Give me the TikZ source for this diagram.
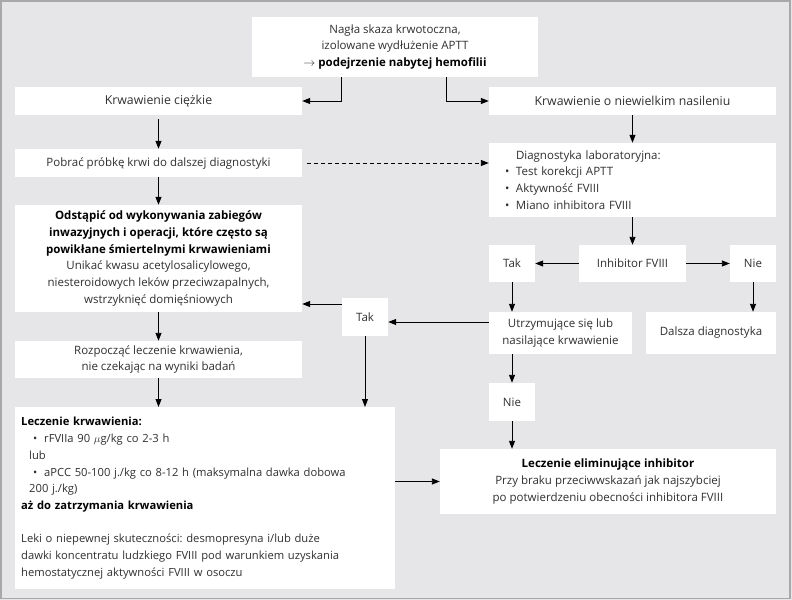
\documentclass[tikz,border=0pt]{standalone}
\usepackage{fontspec}
\setmainfont{Open Sans}
\usetikzlibrary{arrows.meta,calc}
\definecolor{bg}{HTML}{E6E6E8}
\definecolor{frame}{HTML}{A8A8A8}
\definecolor{txt}{HTML}{303030}
\newcommand{\fs}{\fontsize{11.5bp}{16.7bp}\selectfont\frenchspacing}
\newcommand{\fsb}{\fontsize{12.3bp}{16.7bp}\selectfont\frenchspacing}
\newcommand{\bl}{\makebox[11bp][l]{\textbullet}}
\begin{document}
\begin{tikzpicture}[x=1bp,y=-1bp,
  box/.style={fill=white, draw=none, inner sep=0pt, align=center, text=txt, font=\fs},
  arr/.style={-{Triangle[length=8bp,width=6bp]}, line width=0.9bp, black},
  darr/.style={arr, dashed, dash pattern=on 4bp off 3bp}]
\fill[bg] (0,0) rectangle (792,600);
\draw[frame, line width=1.5bp] (1,1) rectangle (790,598.5);
\useasboundingbox (0,0) rectangle (792,600);

\node[box, minimum width=286bp, minimum height=60bp] (top) at (395,47)
  {Nagła skaza krwotoczna,\\ izolowane wydłużenie APTT\\ $\rightarrow$ \textbf{\color{black}podejrzenie nabytej hemofilii}};
\node[box, font=\fsb, minimum width=287bp, minimum height=28bp] (ciez) at (158.5,101) {Krwawienie ciężkie};
\node[box, font=\fsb, minimum width=287bp, minimum height=28bp] (niew) at (632.5,101) {Krwawienie o niewielkim nasileniu};
\node[box, minimum width=287bp, minimum height=28bp] (pob) at (158.5,163) {Pobrać próbkę krwi do dalszej diagnostyki};
\node[box, align=left, text width=255bp, inner xsep=16bp, minimum height=74bp] (diag) at (632.5,180)
  {\hspace*{11bp}Diagnostyka laboratoryjna:\\ \bl Test korekcji APTT\\ \bl Aktywność FVIII\\ \bl Miano inhibitora FVIII};
\node[box, minimum width=287bp, minimum height=107bp] (odst) at (158.5,258.5)
  {\textbf{\color{black}Odstąpić od wykonywania zabiegów}\\ \textbf{\color{black}inwazyjnych i operacji, które często są}\\ \textbf{\color{black}powikłane śmiertelnymi krwawieniami}\\ Unikać kwasu acetylosalicylowego,\\ niesteroidowych leków przeciwzapalnych,\\ wstrzyknięć domięśniowych};
\node[box, minimum width=46bp, minimum height=38bp] (tak1) at (365,317) {Tak};
\node[box, minimum width=107bp, minimum height=37bp] (inhib) at (632.5,263.5) {Inhibitor FVIII};
\node[box, minimum width=46bp, minimum height=37bp] (tak2) at (512,263.5) {Tak};
\node[box, minimum width=46bp, minimum height=37bp] (nie1) at (753,263.5) {Nie};
\node[box, minimum width=143bp, minimum height=42bp] (utrz) at (560.5,333) {Utrzymujące się lub\\ nasilające krwawienie};
\node[box, minimum width=130bp, minimum height=42bp] (dal) at (711,333) {Dalsza diagnostyka};
\node[box, minimum width=46bp, minimum height=38bp] (nie2) at (512,402) {Nie};
\node[box, minimum width=287bp, minimum height=37bp] (rozp) at (158.5,359.5) {Rozpocząć leczenie krwawienia,\\ nie czekając na wyniki badań};
\node[box, font=\fontsize{11.2bp}{16.7bp}\selectfont\frenchspacing, align=left, anchor=north west,
      text width=368bp, inner xsep=6bp, minimum height=182bp] (lk) at (15,407)
  {\textbf{\color{black}Leczenie krwawienia:}\\
   \hspace*{12bp}\bl rFVIIa 90 $\mu$g/kg co 2-3 h\\
   \hspace*{8bp}lub\\
   \hspace*{12bp}\bl aPCC 50-100 j./kg co 8-12 h (maksymalna dawka dobowa\\
   \hspace*{8bp}200 j./kg)\\
   \textbf{\color{black}aż do zatrzymania krwawienia}\\
   \mbox{}\\
   Leki o niepewnej skuteczności: desmopresyna i/lub duże\\
   dawki koncentratu ludzkiego FVIII pod warunkiem uzyskania\\
   hemostatycznej aktywności FVIII w osoczu};
\node[box, minimum width=336bp, minimum height=65bp] (le) at (608,481.5)
  {\textbf{\color{black}Leczenie eliminujące inhibitor}\\ Przy braku przeciwwskazań jak najszybciej\\ po potwierdzeniu obecności inhibitora FVIII};

\draw[arr] ([xshift=-54bp]top.south) |- (ciez.east);
\draw[arr] ([xshift=51bp]top.south) |- (niew.west);
\draw[arr, shorten <=4bp] (ciez.south) -- (pob.north);
\draw[darr, shorten <=5bp] (pob.east) -- (pob.east -| diag.west);
\draw[arr] (niew.south) -- (diag.north);
\draw[arr] (pob.south) -- (odst.north);
\draw[arr] (odst.south) -- (rozp.north);
\draw[arr] (rozp.south) -- (rozp.south |- lk.north);
\draw[arr] (diag.south) -- (inhib.north);
\draw[arr] (inhib.west) -- (tak2.east);
\draw[arr] (inhib.east) -- (nie1.west);
\draw[arr] (tak2.south) -- (tak2.south |- utrz.north);
\draw[arr] (nie1.south) -- (nie1.south |- dal.north);
\draw[arr] ([yshift=11bp]utrz.west) -- ([yshift=11bp]utrz.west -| tak1.east);
\draw[arr] ([yshift=13bp]tak1.west) -- ([yshift=13bp]tak1.west -| odst.east);
\draw[arr] (tak1.south) -- (tak1.south |- lk.north);
\draw[arr] (nie2.north |- utrz.south) -- (nie2.north);
\draw[arr] (nie2.south) -- (nie2.south |- le.north);
\draw[arr] (lk.east |- le.west) -- (le.west);
\end{tikzpicture}
\end{document}
